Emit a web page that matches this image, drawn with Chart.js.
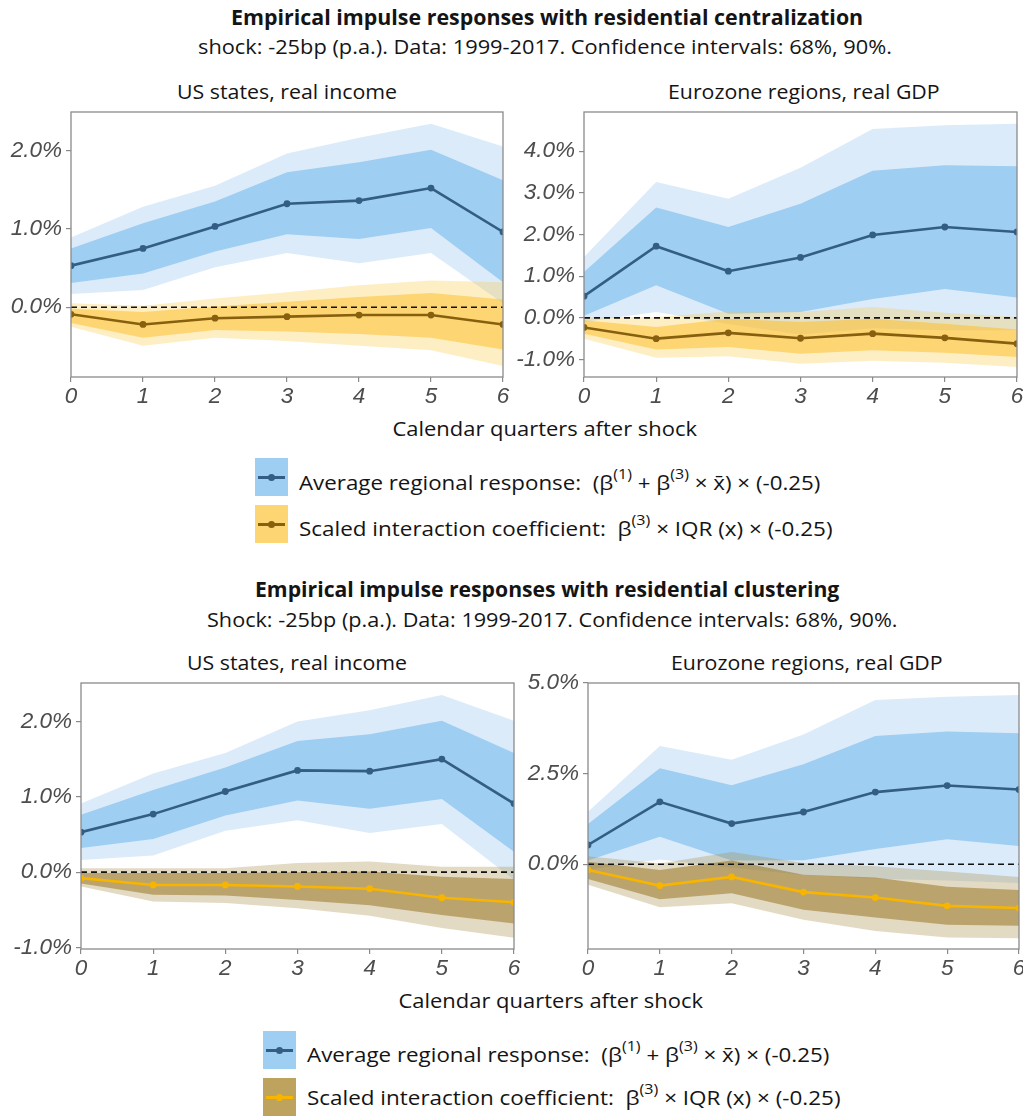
<!DOCTYPE html>
<html>
<head>
<meta charset="utf-8">
<title>Empirical impulse responses</title>
<script src="https://cdn.jsdelivr.net/npm/chart.js@4.4.1/dist/chart.umd.min.js"></script>
<style>
  html, body { margin: 0; padding: 0; background: #fff; }
  body { width: 1023px; height: 1117px; position: relative; overflow: hidden;
         font-family: "Open Sans", "Noto Sans", sans-serif; color: #141414; }
  canvas { position: absolute; }
  .c { position: absolute; white-space: nowrap; line-height: 1.25; transform-origin: 0 0; }
  .b { font-weight: 700; }
  .leg { position: absolute; white-space: nowrap; line-height: 1.25; transform-origin: 0 0; }
  .leg sup { font-size: 0.72em; vertical-align: 0.7em; line-height: 0; }
  .key { position: absolute; width: 33px; height: 38px; }
  .key i { position: absolute; left: 3px; right: 3px; top: 18px; height: 2.5px; }
  .key b { position: absolute; left: 13px; top: 16px; width: 7px; height: 7px; border-radius: 50%; }
</style>
</head>
<body>

<div class="c b" style="left:547px;top:18px" data-fs="20.5" data-w="632">Empirical impulse responses with residential centralization</div>
<div class="c" style="left:545px;top:47px" data-fs="19.5" data-w="694">shock: -25bp (p.a.). Data: 1999-2017. Confidence intervals: 68%, 90%.</div>
<div class="c" style="left:287px;top:92px" data-fs="19.5" data-w="220">US states, real income</div>
<div class="c" style="left:804px;top:92px" data-fs="19.5" data-w="272">Eurozone regions, real GDP</div>
<div class="c" style="left:545px;top:428px" data-fs="20" data-w="305">Calendar quarters after shock</div>

<div class="key" style="left:255px;top:458px;background:#9ecef1"><i style="background:#335d84"></i><b style="background:#335d84"></b></div>
<div class="leg" style="left:299px;top:482px" data-fs="20" data-w="521">Average regional response:&nbsp; (β<sup>(1)</sup> + β<sup>(3)</sup> × x̄) × (-0.25)</div>
<div class="key" style="left:255px;top:505px;background:#fed573"><i style="background:#87600f"></i><b style="background:#87600f"></b></div>
<div class="leg" style="left:299px;top:528px" data-fs="20" data-w="533">Scaled interaction coefficient:&nbsp; β<sup>(3)</sup> × IQR (x) × (-0.25)</div>

<div class="c b" style="left:547px;top:590px" data-fs="20.5" data-w="584">Empirical impulse responses with residential clustering</div>
<div class="c" style="left:552px;top:620px" data-fs="19.5" data-w="690">Shock: -25bp (p.a.). Data: 1999-2017. Confidence intervals: 68%, 90%.</div>
<div class="c" style="left:297px;top:663px" data-fs="19.5" data-w="220">US states, real income</div>
<div class="c" style="left:807px;top:663px" data-fs="19.5" data-w="272">Eurozone regions, real GDP</div>
<div class="c" style="left:551px;top:1000px" data-fs="20" data-w="305">Calendar quarters after shock</div>

<div class="key" style="left:263px;top:1031px;background:#9ecef1"><i style="background:#335d84"></i><b style="background:#335d84"></b></div>
<div class="leg" style="left:307px;top:1054px" data-fs="20" data-w="522">Average regional response:&nbsp; (β<sup>(1)</sup> + β<sup>(3)</sup> × x̄) × (-0.25)</div>
<div class="key" style="left:263px;top:1078px;background:#bea35e"><i style="background:#f7b500"></i><b style="background:#f7b500"></b></div>
<div class="leg" style="left:307px;top:1097px" data-fs="20" data-w="533">Scaled interaction coefficient:&nbsp; β<sup>(3)</sup> × IQR (x) × (-0.25)</div>

<canvas id="p1" width="512" height="307" style="left:0;top:100px"></canvas>
<canvas id="p2" width="511" height="307" style="left:512px;top:100px"></canvas>
<canvas id="p3" width="520" height="312" style="left:0;top:671px"></canvas>
<canvas id="p4" width="503" height="312" style="left:520px;top:671px"></canvas>

<script>
// Horizon: calendar quarters after the shock
const quarters = [0, 1, 2, 3, 4, 5, 6];

// Residential centralization, US states (real income), in percent
const centUsAvg      = [0.53, 0.75, 1.03, 1.32, 1.36, 1.52, 0.96];
const centUsAvgLo68  = [0.31, 0.43, 0.71, 0.93, 0.87, 1.01, 0.32];
const centUsAvgHi68  = [0.75, 1.07, 1.35, 1.72, 1.85, 2.01, 1.62];
const centUsAvgLo90  = [0.17, 0.22, 0.51, 0.69, 0.56, 0.69, 0.05];
const centUsAvgHi90  = [0.89, 1.28, 1.55, 1.96, 2.16, 2.34, 2.05];
const centUsInt      = [-0.09, -0.22, -0.14, -0.12, -0.10, -0.10, -0.22];
const centUsIntLo68  = [-0.20, -0.39, -0.29, -0.31, -0.34, -0.39, -0.54];
const centUsIntHi68  = [-0.02, -0.06, 0.01, 0.07, 0.13, 0.18, 0.10];
const centUsIntLo90  = [-0.25, -0.49, -0.39, -0.43, -0.49, -0.55, -0.75];
const centUsIntHi90  = [0.05, 0.02, 0.11, 0.19, 0.28, 0.34, 0.32];

// Residential centralization, Eurozone regions (real GDP), in percent
const centEzAvg      = [0.52, 1.72, 1.12, 1.45, 1.99, 2.18, 2.06];
const centEzAvgLo68  = [0.05, 0.78, 0.10, 0.14, 0.45, 0.69, 0.49];
const centEzAvgHi68  = [1.10, 2.65, 2.18, 2.74, 3.53, 3.66, 3.64];
const centEzAvgLo90  = [-0.10, 0.14, -0.15, -0.40, -0.25, -0.30, -0.30];
const centEzAvgHi90  = [1.46, 3.26, 2.86, 3.60, 4.53, 4.62, 4.66];
const centEzInt      = [-0.23, -0.50, -0.36, -0.49, -0.38, -0.48, -0.62];
const centEzIntLo68  = [-0.38, -0.76, -0.70, -0.86, -0.78, -0.84, -0.94];
const centEzIntHi68  = [-0.06, -0.22, -0.02, -0.10, -0.02, -0.14, -0.28];
const centEzIntLo90  = [-0.50, -0.96, -0.92, -1.10, -1.03, -1.08, -1.18];
const centEzIntHi90  = [0.02, 0.02, 0.15, 0.14, 0.26, 0.12, 0.02];

// Residential clustering, US states (real income), in percent
const clusUsAvg      = [0.53, 0.77, 1.07, 1.35, 1.34, 1.50, 0.91];
const clusUsAvgLo68  = [0.32, 0.44, 0.75, 0.95, 0.84, 0.97, 0.27];
const clusUsAvgHi68  = [0.76, 1.09, 1.39, 1.74, 1.83, 2.01, 1.58];
const clusUsAvgLo90  = [0.16, 0.22, 0.55, 0.69, 0.52, 0.64, -0.10];
const clusUsAvgHi90  = [0.91, 1.31, 1.58, 2.00, 2.15, 2.35, 2.01];
const clusUsInt      = [-0.08, -0.17, -0.17, -0.19, -0.22, -0.34, -0.40];
const clusUsIntLo68  = [-0.15, -0.30, -0.31, -0.37, -0.44, -0.57, -0.68];
const clusUsIntHi68  = [-0.01, -0.01, -0.01, 0.00, 0.01, -0.06, -0.09];
const clusUsIntLo90  = [-0.19, -0.39, -0.41, -0.48, -0.58, -0.74, -0.87];
const clusUsIntHi90  = [0.05, 0.05, 0.05, 0.12, 0.14, 0.07, 0.07];

// Residential clustering, Eurozone regions (real GDP), in percent
const clusEzAvg      = [0.53, 1.72, 1.12, 1.44, 1.99, 2.17, 2.06];
const clusEzAvgLo68  = [0.10, 0.76, 0.10, 0.11, 0.42, 0.69, 0.50];
const clusEzAvgHi68  = [1.11, 2.65, 2.18, 2.76, 3.54, 3.66, 3.61];
const clusEzAvgLo90  = [-0.15, 0.13, -0.10, -0.30, -0.40, -0.45, -0.52];
const clusEzAvgHi90  = [1.45, 3.26, 2.88, 3.58, 4.53, 4.62, 4.67];
const clusEzInt      = [-0.16, -0.59, -0.35, -0.77, -0.92, -1.15, -1.21];
const clusEzIntLo68  = [-0.41, -0.97, -0.80, -1.26, -1.47, -1.67, -1.70];
const clusEzIntHi68  = [0.07, -0.16, 0.10, -0.29, -0.37, -0.62, -0.71];
const clusEzIntLo90  = [-0.57, -1.19, -1.08, -1.53, -1.84, -2.02, -2.04];
const clusEzIntHi90  = [0.22, 0.02, 0.34, 0.03, -0.06, -0.20, -0.35];

// Axis ticks
const xTicks       = [0, 1, 2, 3, 4, 5, 6];
const yTicksCentUs = [0, 1, 2];
const yTicksCentEz = [-1, 0, 1, 2, 3, 4];
const yTicksClusUs = [-1, 0, 1, 2];
const yTicksClusEz = [0, 2.5, 5];

// Colours
const blue = { line: '#335d84', band90: 'rgba(100,170,235,0.235)', band68: 'rgba(102,179,233,0.52)' };
const gold = { line: '#87600f', band90: 'rgba(253,200,60,0.30)', band68: 'rgba(253,190,40,0.52)' };
const brown = { line: '#f7b500', band90: 'rgba(168,139,72,0.32)', band68: 'rgba(154,119,38,0.55)' };

// Size the HTML titles and legend lines: fixed font size, condensed horizontally to the line width
document.querySelectorAll('[data-w]').forEach(el => {
  el.style.fontSize = el.dataset.fs + 'px';
  const w = el.offsetWidth, h = el.offsetHeight;
  const s = parseFloat(el.dataset.w) / w;
  const centred = el.classList.contains('c');
  const dx = centred ? -parseFloat(el.dataset.w) / 2 : 0;
  el.style.transform = `translate(${dx}px, ${-h / 2}px) scaleX(${s})`;
});

const pts = ys => quarters.map((q, i) => ({ x: q, y: ys[i] }));

function bandPair(lo, hi, color, order, loIndex) {
  return [
    { data: pts(lo), borderColor: 'rgba(0,0,0,0)', borderWidth: 0, pointRadius: 0, fill: false, order },
    { data: pts(hi), borderColor: 'rgba(0,0,0,0)', borderWidth: 0, pointRadius: 0,
      backgroundColor: color, fill: { target: loIndex }, order }
  ];
}

function lineSet(ys, color, order) {
  return { data: pts(ys), borderColor: color, borderWidth: 2.6, pointRadius: 3.4,
           pointBackgroundColor: color, pointBorderWidth: 0, fill: false, order };
}

const frame = {
  id: 'frame',
  afterDatasetsDraw(chart) {
    const { ctx, chartArea: a } = chart;
    ctx.save();
    ctx.strokeStyle = '#8a8a8a';
    ctx.lineWidth = 1.3;
    ctx.strokeRect(a.left, a.top, a.right - a.left, a.bottom - a.top);
    ctx.restore();
  }
};

const tickFont = { family: '"Liberation Sans", Arial, sans-serif', size: 22.5, style: 'italic' };

function panel(id, cfg) {
  const datasets = [
    ...bandPair(cfg.avgLo90, cfg.avgHi90, blue.band90, 6, 0),
    ...bandPair(cfg.avgLo68, cfg.avgHi68, blue.band68, 5, 2),
    ...bandPair(cfg.intLo90, cfg.intHi90, cfg.pal.band90, 4, 4),
    ...bandPair(cfg.intLo68, cfg.intHi68, cfg.pal.band68, 3, 6),
    { data: [{ x: quarters[0], y: 0 }, { x: quarters[quarters.length - 1], y: 0 }],
      borderColor: '#111', borderWidth: 1.6, borderDash: [6, 4], pointRadius: 0, fill: false, order: 2 },
    lineSet(cfg.avg, blue.line, 1),
    lineSet(cfg.int, cfg.pal.line, 0)
  ];
  new Chart(document.getElementById(id), {
    type: 'line',
    data: { datasets },
    plugins: [frame],
    options: {
      responsive: false,
      animation: false,
      events: [],
      layout: { padding: { top: 12, right: cfg.padRight, bottom: 0, left: 0 } },
      plugins: { legend: { display: false }, tooltip: { enabled: false } },
      elements: { line: { tension: 0 } },
      scales: {
        x: {
          type: 'linear', min: 0, max: 6,
          afterBuildTicks: s => { s.ticks = xTicks.map(v => ({ value: v })); },
          afterFit: s => { s.height = cfg.xHeight; s.paddingLeft = 0; s.paddingRight = 0; },
          grid: { drawOnChartArea: false, drawTicks: true, tickLength: 5, color: '#8a8a8a', lineWidth: 1.2 },
          border: { display: false },
          ticks: { font: tickFont, color: '#4d4d4d', padding: 1, maxRotation: 0, callback: v => String(v) }
        },
        y: {
          type: 'linear', min: cfg.yMin, max: cfg.yMax,
          afterBuildTicks: s => { s.ticks = cfg.yTicks.map(v => ({ value: v })); },
          afterFit: s => { s.width = cfg.yWidth; s.paddingTop = 0; s.paddingBottom = 0; },
          grid: { drawOnChartArea: false, drawTicks: true, tickLength: 5, color: '#8a8a8a', lineWidth: 1.2 },
          border: { display: false },
          ticks: { font: tickFont, color: '#4d4d4d', padding: 4, callback: v => v.toFixed(1) + '%' }
        }
      }
    }
  });
}

panel('p1', { avg: centUsAvg, avgLo68: centUsAvgLo68, avgHi68: centUsAvgHi68, avgLo90: centUsAvgLo90, avgHi90: centUsAvgHi90,
  int: centUsInt, intLo68: centUsIntLo68, intHi68: centUsIntHi68, intLo90: centUsIntLo90, intHi90: centUsIntHi90,
  pal: gold, yTicks: yTicksCentUs, yMin: -0.89, yMax: 2.49, yWidth: 71, padRight: 9, xHeight: 30 });

panel('p2', { avg: centEzAvg, avgLo68: centEzAvgLo68, avgHi68: centEzAvgHi68, avgLo90: centEzAvgLo90, avgHi90: centEzAvgHi90,
  int: centEzInt, intLo68: centEzIntLo68, intHi68: centEzIntHi68, intLo90: centEzIntLo90, intHi90: centEzIntHi90,
  pal: gold, yTicks: yTicksCentEz, yMin: -1.42, yMax: 4.94, yWidth: 72, padRight: 6, xHeight: 30 });

panel('p3', { avg: clusUsAvg, avgLo68: clusUsAvgLo68, avgHi68: clusUsAvgHi68, avgLo90: clusUsAvgLo90, avgHi90: clusUsAvgHi90,
  int: clusUsInt, intLo68: clusUsIntLo68, intHi68: clusUsIntHi68, intLo90: clusUsIntLo90, intHi90: clusUsIntHi90,
  pal: brown, yTicks: yTicksClusUs, yMin: -1.02, yMax: 2.51, yWidth: 81, padRight: 6, xHeight: 34 });

panel('p4', { avg: clusEzAvg, avgLo68: clusEzAvgLo68, avgHi68: clusEzAvgHi68, avgLo90: clusEzAvgLo90, avgHi90: clusEzAvgHi90,
  int: clusEzInt, intLo68: clusEzIntLo68, intHi68: clusEzIntHi68, intLo90: clusEzIntLo90, intHi90: clusEzIntHi90,
  pal: brown, yTicks: yTicksClusEz, yMin: -2.34, yMax: 5.0, yWidth: 68, padRight: 3, xHeight: 34 });
</script>
</body>
</html>
